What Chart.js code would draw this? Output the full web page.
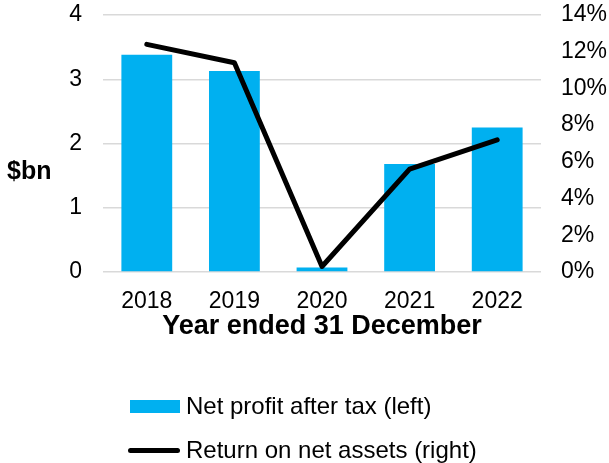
<!DOCTYPE html>
<html lang="en">
<head>
    <meta charset="UTF-8">
    <title>Net profit and return on net assets</title>
    <script src="https://cdn.jsdelivr.net/npm/chart.js"></script>
    <style>
        body { margin: 0; background: #fff; font-family: "Liberation Sans", Arial, sans-serif; }
        .wrap { position: relative; width: 609px; height: 463px; }
        #unit { position: absolute; left: 7px; top: 156px; font-weight: bold; font-size: 25px; color: #000; }
        .legend { position: absolute; left: 128px; font-size: 24px; color: #000; }
        .legend div { display: flex; align-items: center; height: 30px; margin-bottom: 14px; }
        .swatch { width: 52px; margin-right: 6px; }
    </style>
</head>
<body>
    <div class="wrap">
        <canvas id="profitChart" width="609" height="463"></canvas>
        <div id="unit">$bn</div>
        <div class="legend" id="legend" style="top: 391px;"></div>
    </div>

    <script>
        // Data
        const years = ['2018', '2019', '2020', '2021', '2022'];
        const netProfit = [3.38, 3.13, 0.07, 1.68, 2.25];        // $bn, left axis
        const returnOnAssets = [12.4, 11.4, 0.3, 5.6, 7.2];      // %, right axis
        const leftTicks = [0, 1, 2, 3, 4];
        const rightTicks = [0, 2, 4, 6, 8, 10, 12, 14];

        const blue = '#00B0F0';
        const font = { family: '"Liberation Sans", Arial, sans-serif', size: 23 };

        // fixed axis boxes so the plot sits where the reference has it
        const fixWidth = w => axis => {
            axis.width = w;
            axis.paddingTop = 0;
            axis.paddingBottom = 0;
        };

        const ctx = document.getElementById('profitChart').getContext('2d');
        const chart = new Chart(ctx, {
            type: 'bar',
            data: {
                labels: years,
                datasets: [{
                    type: 'line',
                    label: 'Return on net assets (right)',
                    data: returnOnAssets,
                    yAxisID: 'y1',
                    borderColor: '#000',
                    borderWidth: 5,
                    borderCapStyle: 'round',
                    borderJoinStyle: 'round',
                    pointRadius: 0,
                    tension: 0,
                    order: 0
                }, {
                    label: 'Net profit after tax (left)',
                    data: netProfit,
                    yAxisID: 'y',
                    backgroundColor: blue,
                    categoryPercentage: 1,
                    barPercentage: 0.58,
                    order: 1
                }]
            },
            options: {
                responsive: false,
                animation: false,
                layout: { padding: { top: 15, bottom: 120, left: 0, right: 0 } },
                plugins: {
                    legend: { display: false },
                    tooltip: { enabled: false }
                },
                scales: {
                    x: {
                        grid: { display: false, drawTicks: false },
                        border: { display: false },
                        ticks: { color: '#000', font: font, padding: 16 },
                        title: {
                            display: true,
                            text: 'Year ended 31 December',
                            color: '#000',
                            font: { family: font.family, size: 27, weight: 'bold' },
                            padding: { top: 2, bottom: 0 }
                        },
                        afterFit: axis => { axis.height = 71; }
                    },
                    y: {
                        position: 'left',
                        min: 0,
                        max: 4,
                        afterBuildTicks: axis => { axis.ticks = leftTicks.map(v => ({ value: v })); },
                        afterFit: fixWidth(103),
                        grid: { color: '#d9d9d9', lineWidth: 1.5, drawTicks: false },
                        border: { display: false },
                        ticks: { color: '#000', font: font, padding: 21 }
                    },
                    y1: {
                        position: 'right',
                        min: 0,
                        max: 14,
                        afterBuildTicks: axis => { axis.ticks = rightTicks.map(v => ({ value: v })); },
                        afterFit: fixWidth(68),
                        grid: { display: false, drawTicks: false },
                        border: { display: false },
                        ticks: { color: '#000', font: font, padding: 20, autoSkip: false, callback: v => v + '%' }
                    }
                }
            }
        });

        // Legend, built from the datasets, bars first
        const legend = document.getElementById('legend');
        [chart.data.datasets[1], chart.data.datasets[0]].forEach(ds => {
            const row = document.createElement('div');
            const sw = document.createElement('span');
            sw.className = 'swatch';
            if (ds.type === 'line') {
                sw.style.height = '5px';
                sw.style.borderRadius = '3px';
                sw.style.background = ds.borderColor;
            } else {
                sw.style.height = '13px';
                sw.style.background = ds.backgroundColor;
                sw.style.marginLeft = '2px';
                sw.style.width = '50px';
            }
            row.appendChild(sw);
            row.appendChild(document.createTextNode(ds.label));
            legend.appendChild(row);
        });
    </script>
</body>
</html>
